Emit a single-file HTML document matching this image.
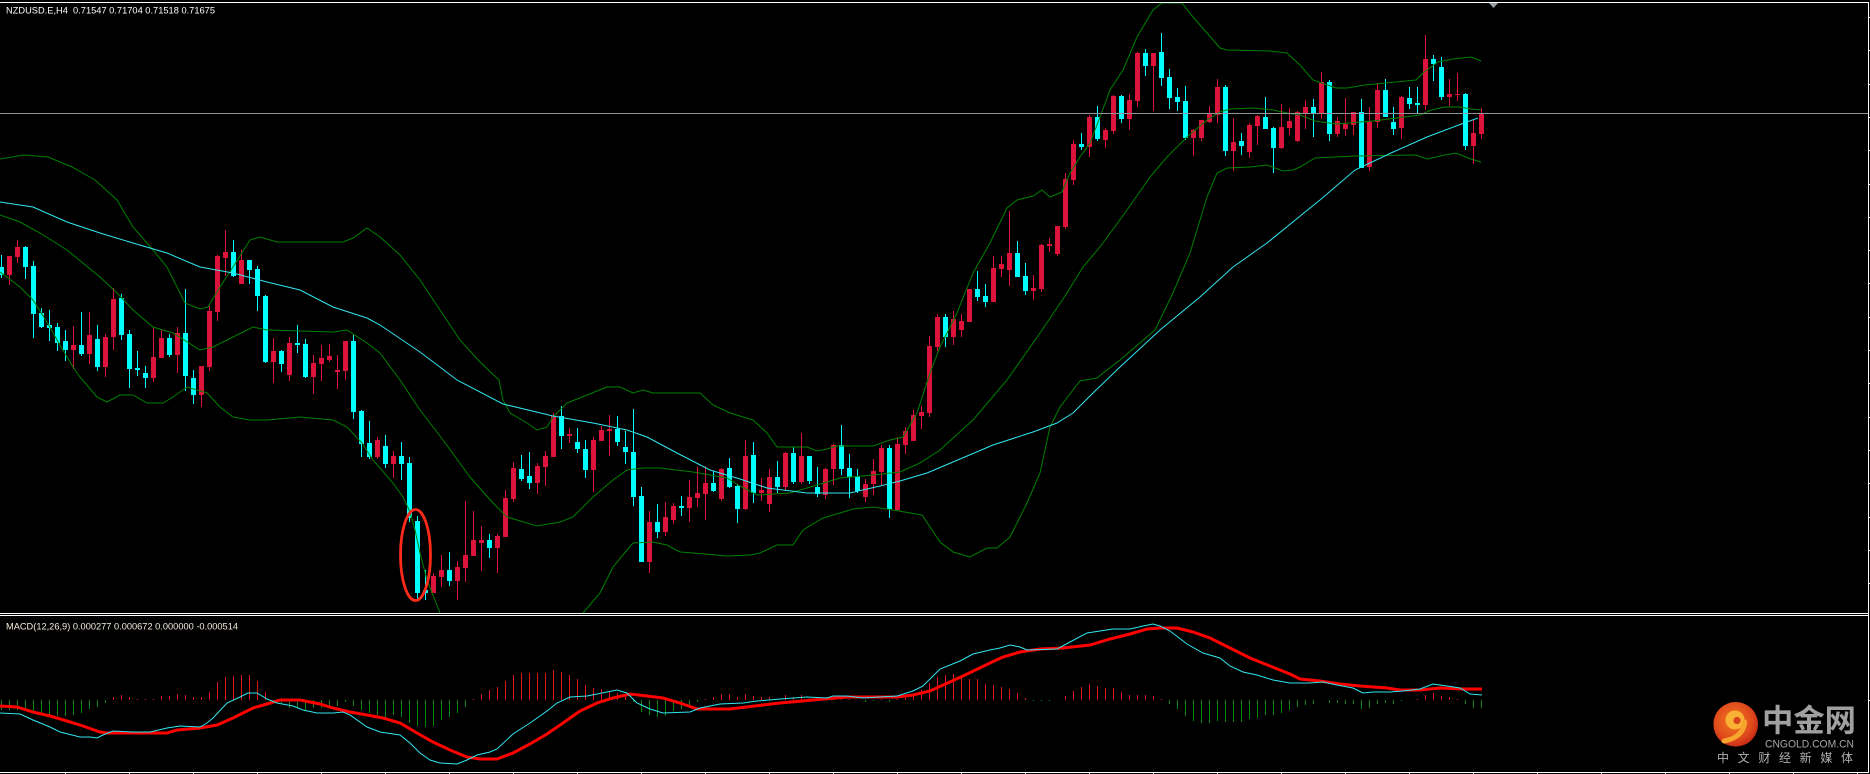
<!DOCTYPE html>
<html><head><meta charset="utf-8">
<style>
html,body{margin:0;padding:0;background:#000;width:1870px;height:774px;overflow:hidden}
svg{display:block}
</style></head>
<body>
<svg id="s" width="1870" height="774" viewBox="0 0 1870 774" xmlns="http://www.w3.org/2000/svg">
<defs>
<radialGradient id="lg" cx="0.45" cy="0.42" r="0.6">
<stop offset="0" stop-color="#f47a22"/>
<stop offset="0.7" stop-color="#e04a1c"/>
<stop offset="1" stop-color="#c42a17"/>
</radialGradient>
<clipPath id="mainclip"><rect x="0" y="3" width="1868" height="610"/></clipPath>
<clipPath id="macdclip"><rect x="0" y="616" width="1868" height="156"/></clipPath>
</defs>
<rect width="1870" height="774" fill="#000"/>
<g id="cand" shape-rendering="crispEdges" clip-path="url(#mainclip)"></g>
<g id="lines" fill="none" stroke-width="1" clip-path="url(#mainclip)"></g>
<line x1="0" y1="113.5" x2="1868" y2="113.5" stroke="#8c939b" stroke-width="1" shape-rendering="crispEdges"/>
<ellipse cx="415.5" cy="555" rx="15" ry="45.5" fill="none" stroke="#ff2a1a" stroke-width="2.8"/>
<polygon points="1489,3 1498,3 1493.5,8" fill="#9aa0a6"/>
<g id="macd" shape-rendering="crispEdges" clip-path="url(#macdclip)"></g>
<g id="macdl" fill="none" clip-path="url(#macdclip)"></g>
<!-- borders -->
<g stroke="#ffffff" stroke-width="1" shape-rendering="crispEdges">
<line x1="0" y1="2.5" x2="1869" y2="2.5"/>
<line x1="0" y1="613.5" x2="1869" y2="613.5"/>
<line x1="0" y1="615.5" x2="1869" y2="615.5"/>
<line x1="0" y1="772.5" x2="1869" y2="772.5"/>
<line x1="1868.5" y1="2" x2="1868.5" y2="773"/>
</g>
<g id="ticks" stroke="#ffffff" stroke-width="1" shape-rendering="crispEdges"></g>
<text x="6" y="13.7" font-family="'Liberation Sans', Arial, sans-serif" font-size="9.3" fill="#ffffff" textLength="209" lengthAdjust="spacingAndGlyphs">NZDUSD.E,H4&#160;&#160;0.71547 0.71704 0.71518 0.71675</text>
<text x="6" y="629.3" font-family="'Liberation Sans', Arial, sans-serif" font-size="9.3" fill="#f4eedc" textLength="232" lengthAdjust="spacingAndGlyphs">MACD(12,26,9) 0.000277 0.000672 0.000000 -0.000514</text>
<!-- logo -->
<circle cx="1735.7" cy="724.3" r="22.3" fill="url(#lg)"/>
<circle cx="1735" cy="720" r="9.5" fill="#f9b233"/>
<circle cx="1737" cy="720.5" r="3.6" fill="#d8401e"/>
<path d="M1744.5 722 C1744 733 1735 739 1724 741" stroke="#f7a52c" stroke-width="5" fill="none" stroke-linecap="round"/>
<text x="1762" y="731.5" font-family="'Liberation Sans','Noto Sans CJK SC',sans-serif" font-size="31" font-weight="bold" fill="#a0a0a0" textLength="94" lengthAdjust="spacingAndGlyphs">中金网</text>
<text x="1765" y="747.5" font-family="'Liberation Sans',sans-serif" font-size="11" fill="#a8a8a8" textLength="89" lengthAdjust="spacingAndGlyphs">CNGOLD.COM.CN</text>
<text x="1717" y="762" font-family="'Liberation Sans','Noto Sans CJK SC',sans-serif" font-size="12" fill="#b0b0b0" textLength="136" lengthAdjust="spacing">中文财经新媒体</text>
</svg>
<script>
(function(){
var NS="http://www.w3.org/2000/svg";
function el(parent,tag,attrs){var e=document.createElementNS(NS,tag);for(var a in attrs)e.setAttribute(a,attrs[a]);parent.appendChild(e);return e;}
var K=[
[0,267,275,255,278],[1,256,275,256,285],[1,247,257,240,263],[0,247,267,246,279],[0,266,314,261,338],
[0,313,327,308,328],[0,325,328,310,341],[0,327,343,323,351],[0,341,350,330,361],[1,345,350,326,369],
[0,345,354,312,356],[1,335,354,312,364],[0,339,367,325,371],[1,337,367,334,377],[1,299,337,288,350],
[0,298,335,294,340],[0,334,369,330,388],[0,368,370,351,376],[0,373,378,366,388],[1,357,378,327,382],
[1,338,358,330,358],[0,338,355,334,357],[1,333,355,327,373],[0,333,376,289,391],[0,378,395,370,404],
[1,366,395,366,407],[1,311,367,306,371],[1,256,312,255,321],[1,252,258,230,276],[0,252,276,240,277],
[1,260,284,250,284],[0,260,270,260,284],[0,269,296,266,311],[0,296,362,295,363],[1,351,362,338,383],
[0,351,364,350,372],[1,343,375,337,381],[0,343,345,325,353],[0,344,377,339,378],[1,363,377,355,394],
[1,358,364,345,381],[1,356,360,344,362],[1,370,372,355,389],[1,341,371,341,380],[0,341,412,335,419],
[0,411,444,410,457],[0,443,457,421,459],[1,440,457,437,459],[0,446,464,435,468],[1,456,464,451,478],
[0,456,464,442,480],[0,463,518,457,522],[0,521,593,516,599],[0,590,593,570,600],[1,576,593,573,593],
[1,570,577,555,587],[0,570,581,552,586],[1,567,581,561,600],[1,555,568,501,582],[1,540,556,511,556],
[1,540,543,526,571],[0,540,548,534,558],[1,536,548,534,573],[1,498,537,490,537],[1,468,499,462,502],
[0,469,479,455,481],[0,476,483,452,489],[1,466,483,463,494],[1,456,467,451,486],[1,416,457,413,457],
[0,416,436,406,449],[1,434,436,428,443],[0,442,449,428,453],[0,449,470,440,478],[1,440,470,437,492],
[1,430,441,426,441],[1,429,431,415,456],[0,429,442,416,446],[0,447,452,431,464],[0,452,497,409,506],
[0,496,562,487,562],[1,522,562,511,573],[0,522,532,504,538],[1,517,532,502,536],[1,506,520,503,524],
[0,506,508,496,516],[1,497,508,480,522],[1,493,498,467,507],[1,483,494,466,520],[0,483,491,471,492],
[1,469,499,468,501],[0,468,487,458,488],[0,486,509,484,523],[1,456,509,440,510],[0,455,493,442,503],
[1,490,493,478,501],[1,477,504,469,512],[0,477,487,461,493],[1,453,487,452,491],[0,453,482,447,484],
[1,456,482,433,484],[0,456,481,456,484],[0,487,494,467,497],[1,469,495,468,499],[1,445,469,444,485],
[0,445,469,425,475],[0,468,477,454,498],[0,476,491,469,493],[1,484,497,479,502],[1,471,484,459,495],
[1,448,472,445,485],[0,448,509,445,518],[1,444,510,437,511],[1,431,445,427,454],[1,415,441,410,441],
[1,412,416,406,429],[1,346,413,336,417],[1,317,347,314,351],[0,317,337,314,347],[1,319,337,311,345],
[1,321,330,314,337],[1,289,322,289,322],[0,289,297,271,301],[0,296,302,284,307],[1,268,302,256,302],
[1,264,269,256,277],[1,253,270,211,286],[0,253,277,241,277],[0,276,291,263,295],[1,288,291,275,300],
[1,245,289,244,292],[1,244,246,238,252],[1,226,254,226,256],[1,179,227,173,229],[1,144,180,140,185],
[0,144,147,133,150],[1,117,147,115,157],[0,117,139,106,141],[1,130,140,128,148],[1,96,131,95,134],
[0,96,119,95,123],[1,100,119,94,130],[1,53,101,52,107],[0,53,66,49,76],[1,53,66,53,111],
[0,52,78,33,86],[0,77,98,69,109],[0,97,102,88,111],[0,101,138,86,140],[1,130,138,129,156],
[1,120,138,120,141],[1,114,122,106,123],[1,87,115,79,123],[0,87,151,85,156],[1,142,151,118,171],
[0,141,146,133,155],[1,125,152,123,158],[1,116,126,115,145],[0,117,129,97,129],[0,128,148,127,173],
[1,127,148,104,149],[1,121,128,108,135],[1,112,141,111,142],[1,107,113,100,129],[0,107,113,99,137],
[1,82,113,72,119],[0,82,134,80,141],[1,121,134,117,137],[1,124,129,98,136],[1,112,125,112,135],
[0,112,168,99,168],[1,121,167,107,171],[1,90,122,83,128],[0,90,117,79,117],[0,122,129,107,135],
[1,97,128,96,139],[0,98,104,87,109],[0,103,105,87,113],[1,59,105,35,110],[0,59,64,55,81],
[0,67,97,57,100],[1,94,97,79,106],[1,94,95,73,101],[0,94,146,93,150],[1,133,146,120,164],
[1,113,134,108,139]
];
var dR="",dC="";
for(var k=0;k<K.length;k++){
 var c=K[k],x=8*k-1,wx=8*k+1;
 var bh=Math.max(1,c[2]-c[1]);
 var s="M"+x+" "+c[1]+"h5v"+bh+"h-5z";
 var wt=Math.min(c[3],c[1]),wb=Math.max(c[4],c[1]+bh);
 s+="M"+wx+" "+wt+"h1v"+(wb-wt)+"h-1z";
 if(c[0])dR+=s;else dC+=s;
}
var cg=document.getElementById("cand");
el(cg,"path",{d:dC,fill:"#00ffff"});
el(cg,"path",{d:dR,fill:"#dc143c"});

function pts(a){var s=[];for(var i=0;i<a.length;i+=2)s.push(a[i]+","+a[i+1]);return s.join(" ");}
var upper=[0,159,24,155,48,157,72,167,95,180,117,200,133,227,153,250,167,267,185,303,200,309,208,307,220,287,233,267,250,240,260,237,277,242,343,242,353,238,367,228,380,237,400,255,420,280,440,310,460,340,480,362,499,380,503,400,510,413,527,423,537,430,547,427,553,417,567,403,587,395,607,387,620,387,633,393,643,390,653,393,700,393,713,405,730,413,753,420,767,433,777,447,807,447,817,451,827,449,837,446,873,446,890,440,903,437,917,413,930,373,940,347,957,313,973,273,990,243,1007,208,1017,200,1033,196,1042,190,1050,197,1062,192,1070,173,1080,157,1090,143,1100,117,1110,90,1123,70,1137,37,1153,10,1162,3,1182,3,1193,17,1207,33,1220,48,1227,50,1270,51,1287,53,1300,65,1313,80,1336,88,1347,88,1365,85,1416,80,1424,72,1438,62,1453,59,1471,57,1481,61];
var middle=[0,215,20,222,40,233,67,250,100,277,117,293,133,310,153,327,173,333,200,350,213,347,233,337,253,327,267,330,333,332,347,330,367,343,380,353,400,380,420,410,443,440,470,477,493,503,507,517,537,526,560,522,573,517,593,497,613,480,627,470,643,468,660,468,693,472,727,478,740,486,757,495,790,493,807,488,840,478,873,475,900,472,920,463,940,450,973,420,1007,380,1040,333,1067,293,1083,267,1100,247,1127,210,1150,177,1167,157,1187,137,1193,132,1207,120,1220,112,1230,109,1253,108,1273,110,1287,113,1300,115,1315,121,1336,124,1373,121,1420,115,1431,110,1445,107,1460,107,1471,109,1481,110];
var lower=[0,272,20,287,33,300,50,327,57,340,67,357,73,367,80,377,97,397,107,402,120,395,133,395,147,403,163,403,173,397,187,387,207,393,220,407,233,417,250,420,267,420,300,417,333,420,347,427,362,443,373,460,393,483,403,497,410,512,415,530,420,553,427,580,440,613,446,630];
var lower2=[578,630,583,613,600,593,613,567,627,550,633,543,653,542,667,545,680,552,693,553,727,556,750,555,760,553,777,545,793,545,803,530,823,518,840,513,853,509,873,507,893,510,922,515,940,542,953,552,970,557,987,548,997,548,1010,537,1027,503,1040,473,1050,427,1060,407,1073,390,1080,381,1097,378,1107,370,1120,360,1155,330,1173,293,1190,253,1207,197,1217,173,1227,168,1250,167,1267,165,1283,171,1293,170,1300,167,1315,158,1355,156,1416,155,1427,159,1445,155,1456,153,1471,159,1481,162];
var ma=[0,202,33,207,67,222,100,233,133,243,167,253,200,267,233,273,267,282,300,290,333,307,367,318,380,325,420,352,457,380,503,404,553,416,593,423,627,430,647,437,677,453,710,470,740,479,767,488,807,493,850,493,880,486,900,481,927,473,953,462,993,445,1033,432,1057,423,1073,413,1093,393,1120,367,1160,330,1200,297,1233,267,1267,243,1310,208,1320,200,1355,170,1391,153,1427,137,1464,123,1478,118];
var lg=document.getElementById("lines");
[upper,middle,lower,lower2].forEach(function(a){el(lg,"polyline",{points:pts(a),stroke:"#008000"});});
el(lg,"polyline",{points:pts(ma),stroke:"#30e6f0"});

var H=[-10,-10,-10,-10,-11,-13,-15,-16,-16,-15,-13,-9,-7,-3,
3,5,3,1,1,1,4,4,6,5,3,3,8,18,23,24,25,25,19,8,
-2,-3,-8,-8,-10,-8,-8,-7,-6,-2,-6,-10,-13,-15,-17,-15,-17,-23,-26,-27,-26,-20,-17,-13,-7,
1,6,10,13,19,25,27,27,27,27,30,28,25,21,15,12,11,9,7,5,
-2,-12,-15,-17,-16,-11,-9,-6,-2,
1,3,6,6,3,6,4,3,3,1,5,3,5,2,1,1,2,1,1,0,
-2,-1,1,-2,1,3,6,10,17,23,25,26,25,21,21,16,15,13,11,7,2,
-1,-1,-1,0,4,9,13,16,14,12,12,8,5,5,5,4,1,
-4,-9,-16,-21,-23,-23,-21,-22,-22,-22,-19,-18,-15,-15,-13,-10,-7,-5,-4,0,-3,-3,-4,-4,-9,-8,-4,-3,-4,-1,0,1,5,7,4,3,1,-4,-8,-8];
var hr="",hg="";
for(var i=0;i<H.length;i++){var v=H[i],x=8*i+1;if(v>0)hr+="M"+x+" "+(700-v)+"h1v"+v+"h-1z";else if(v<0)hg+="M"+x+" 700h1v"+(-v)+"h-1z";}
var mg=document.getElementById("macd");
el(mg,"path",{d:hr,fill:"#e01818"});
el(mg,"path",{d:hg,fill:"#0a8a0a"});
var mline=[0,713,20,714,33,720,50,727,60,732,80,737,90,737,97,738,103,735,113,731,133,732,150,732,167,728,180,726,200,727,207,723,213,718,227,703,240,697,248,693,257,693,267,699,277,703,293,706,303,710,317,713,333,713,343,712,350,715,367,727,380,732,400,735,410,743,420,753,430,760,440,763,457,764,467,760,477,755,490,752,497,749,513,734,530,723,547,711,557,703,570,697,587,696,607,692,617,690,627,693,637,703,650,709,663,713,690,712,700,708,720,704,743,703,757,701,780,699,807,697,827,698,833,696,847,696,863,698,897,696,913,691,923,686,940,669,960,661,973,654,990,650,1000,648,1010,645,1020,647,1027,650,1057,649,1070,642,1087,633,1100,631,1113,629,1130,629,1143,626,1153,624,1160,626,1170,631,1187,644,1203,653,1220,658,1230,666,1243,672,1257,675,1273,680,1290,683,1310,683,1323,682,1337,685,1353,688,1363,693,1373,692,1390,692,1403,691,1420,689,1433,684,1447,686,1460,688,1470,694,1482,695];
var sig=[0,706,17,707,33,712,50,716,67,721,83,726,100,732,107,733,167,733,177,730,200,728,217,725,233,718,253,708,267,704,280,700,300,700,320,704,333,708,350,712,367,715,383,718,400,723,417,733,433,742,450,750,467,757,480,759,497,759,513,753,530,744,547,734,563,723,580,711,597,703,613,698,630,694,647,696,663,698,680,703,697,709,730,709,780,703,813,700,847,697,897,697,913,695,930,691,963,676,990,663,1003,657,1020,652,1040,649,1063,648,1090,645,1110,639,1130,634,1147,629,1160,628,1177,628,1193,632,1210,638,1230,648,1250,658,1270,666,1290,674,1300,679,1320,681,1340,684,1360,686,1387,688,1400,690,1420,690,1440,688,1463,689,1482,689];
var ml=document.getElementById("macdl");
el(ml,"polyline",{points:pts(sig),stroke:"#ff0000","stroke-width":"3"});
el(ml,"polyline",{points:pts(mline),stroke:"#30e6f0","stroke-width":"1"});
var tg=document.getElementById("ticks");
for(var tx=65;tx<1868;tx+=64)el(tg,"line",{x1:tx+0.5,y1:772,x2:tx+0.5,y2:774});
for(var ty=17;ty<610;ty+=33.3)el(tg,"line",{x1:1868,y1:Math.round(ty)+0.5,x2:1870,y2:Math.round(ty)+0.5});
el(tg,"line",{x1:1868,y1:700.5,x2:1870,y2:700.5});
})();
</script>
</body></html>
